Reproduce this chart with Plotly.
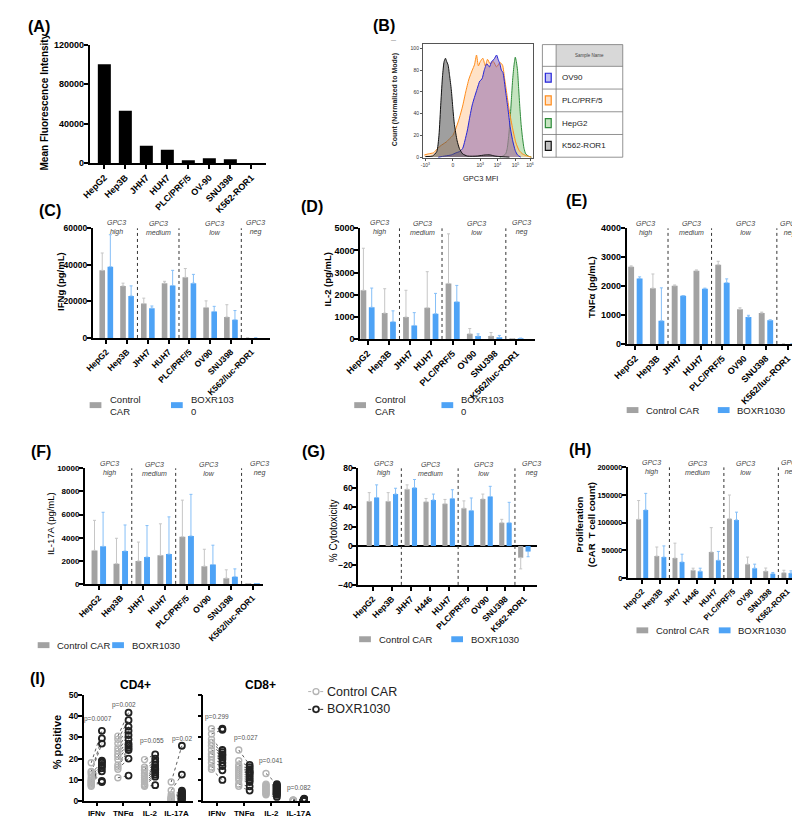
import plotly.graph_objects as go

W, H = 800, 816
FONT = "Liberation Sans, Arial, Helvetica, sans-serif"

# ======================= DATA =======================
# (A) GPC3 surface expression
cells_a = ["HepG2", "Hep3B", "JHH7", "HUH7", "PLC/PRF/5", "OV-90", "SNU398", "K562-ROR1"]
mfi_a = [100000, 53000, 17500, 13500, 3000, 5000, 4000, 0]

# (B) flow histograms (x in logicle display units, y = % of mode)
b_tick_u = [-1.6, 0, 1.6, 2.6, 3.65, 4.5]
b_tick_txt = ["-10<sup>3</sup>", "0", "10<sup>3</sup>", "10<sup>4</sup>", "10<sup>5</sup>", "10<sup>6</sup>"]
b_samples = ["OV90", "PLC/PRF/5", "HepG2", "K562-ROR1"]
hepg2_u = [2.74, 2.92, 3.08, 3.17, 3.26, 3.34, 3.42, 3.49, 3.57, 3.64, 3.70, 3.77, 3.83, 3.91, 3.98, 4.06, 4.15, 4.25, 4.40, 4.58]
hepg2_y = [0, 1, 3, 8, 20, 35, 55, 72, 85, 92, 88, 80, 65, 45, 30, 18, 8, 3, 1, 0]
plc_u = [-1.66, -1.42, -1.13, -0.94, -0.75, -0.57, -0.38, -0.19, 0.0, 0.19, 0.38, 0.57, 0.75, 0.94, 1.13, 1.26,
         1.38, 1.49, 1.60, 1.75, 1.89, 2.02, 2.17, 2.36, 2.55, 2.74, 2.89, 3.02, 3.15, 3.30, 3.49, 3.68, 3.87,
         4.06, 4.34, 4.58]
plc_y = [2, 3, 4, 7, 10, 12, 14, 17, 20, 27, 36, 47, 60, 72, 80, 85, 94, 84, 88, 91, 84, 90, 86, 88, 83, 87, 85,
         72, 58, 42, 26, 13, 6, 3, 1, 0]
ov90_u = [-0.85, -0.47, -0.09, 0.19, 0.38, 0.57, 0.70, 0.85, 1.00, 1.13, 1.26, 1.42, 1.57, 1.70, 1.83, 1.98, 2.13,
          2.26, 2.40, 2.55, 2.64, 2.74, 2.83, 2.92, 3.08, 3.21, 3.34, 3.49, 3.64, 3.77, 3.96]
ov90_y = [0, 1, 2, 4, 5, 8, 15, 25, 38, 48, 55, 63, 70, 72, 80, 86, 83, 88, 90, 94, 90, 86, 80, 78, 60, 45, 28, 15,
          6, 2, 0]
k562_u = [-1.60, -1.19, -0.94, -0.81, -0.70, -0.60, -0.51, -0.43, -0.36, -0.28, -0.19, -0.09, 0.0, 0.09, 0.25,
          0.38, 0.57, 0.85, 1.42, 1.89, 2.17, 2.45, 2.74, 3.30]
k562_y = [0.5, 1, 5, 20, 50, 75, 88, 91, 88, 85, 75, 62, 45, 30, 15, 8, 3, 1, 1, 2, 2, 1, 0.5, 0]

# (C)-(F) cytokines
cells_cf = ["HepG2", "Hep3B", "JHH7", "HUH7", "PLC/PRF/5", "OV90", "SNU398", "K562/luc-ROR1"]
ifng_ctrl = [37000, 28500, 18800, 30000, 33200, 16700, 11500, 0]
ifng_ctrl_sd = [9500, 1500, 3000, 1000, 4800, 3600, 6700, 0]
ifng_boxr = [39000, 23000, 16300, 28700, 30000, 14500, 10000, 0]
ifng_boxr_sd = [17500, 5500, 1200, 8300, 4800, 2800, 5000, 0]

il2_ctrl = [2200, 1170, 990, 1410, 2510, 230, 130, 10]
il2_ctrl_sd = [1900, 1100, 1210, 1630, 2240, 240, 160, 0]
il2_boxr = [1430, 780, 610, 1140, 1680, 130, 70, 20]
il2_boxr_sd = [870, 490, 580, 920, 740, 100, 90, 20]

tnf_ctrl = [2670, 1930, 2010, 2530, 2740, 1200, 1070, 0]
tnf_ctrl_sd = [30, 490, 30, 30, 120, 50, 30, 0]
tnf_boxr = [2260, 800, 1670, 1910, 2120, 930, 820, 0]
tnf_boxr_sd = [60, 1140, 0, 20, 130, 60, 10, 0]

il17_ctrl = [2900, 1750, 1980, 2470, 4080, 1530, 500, 30]
il17_ctrl_sd = [2600, 2200, 1640, 2730, 3170, 1470, 720, 0]
il17_boxr = [3250, 2850, 2330, 2580, 4150, 1680, 630, 30]
il17_boxr_sd = [2950, 2250, 2720, 3220, 3600, 1670, 670, 0]

# (G)-(H)
cells_gh = ["HepG2", "Hep3B", "JHH7", "H446", "HUH7", "PLC/PRF/5", "OV90", "SNU398", "K562-ROR1"]
cyto_ctrl = [46, 46, 58.5, 45.5, 43.5, 39, 48.5, 24, -12]
cyto_ctrl_sd = [9, 9, 4.5, 3.5, 4.5, 7.5, 5, 3.5, 11.5]
cyto_boxr = [50, 53.5, 60, 47.5, 49, 36.5, 51, 24, -5.5]
cyto_boxr_sd = [13, 6, 8.5, 6, 9, 13, 10.5, 21, 5.5]

prolif_ctrl = [106000, 39600, 36000, 14000, 47000, 107000, 25000, 12400, 9500]
prolif_ctrl_sd = [34000, 16400, 27000, 3700, 44000, 43000, 12800, 5600, 4500]
prolif_boxr = [123000, 37800, 29000, 12400, 32000, 105000, 17700, 7700, 8900]
prolif_boxr_sd = [30000, 20200, 14000, 5300, 16000, 14000, 7300, 2300, 4100]

gpc3_groups = ["high", "medium", "low", "neg"]
series_names = ["Control CAR", "BOXR1030"]

# (I) intracellular cytokine staining, paired donors
ics_cats = ["IFNγ", "TNFα", "IL-2", "IL-17A"]
cd4_ctrl = [[18, 14, 13.5, 12.5, 11, 10, 9.5, 9, 8.5, 8, 7.5, 7],
            [30.5, 29, 27, 25, 23.5, 22, 21, 19.5, 17, 16, 15, 11],
            [19.5, 16, 15, 14.5, 13, 12, 11, 10, 9, 8, 7.5, 7],
            [9, 5, 3, 2, 1.5, 1.5, 1, 1, 0.5, 0.5, 0.3, 0.2]]
cd4_boxr = [[33, 29.5, 27, 19, 18.5, 18, 17, 16.5, 15.5, 14, 9.5, 9],
            [41.5, 38, 35, 33, 31, 29, 27, 26, 25, 24, 20, 12],
            [22, 20, 18.5, 17, 16, 15.5, 15, 14.5, 13.5, 12.5, 11.5, 7.5],
            [26, 12.5, 5, 4.5, 4, 3.5, 3, 2.5, 2, 1.5, 1, 0.5]]
cd8_ctrl = [[34, 31.5, 29, 27.5, 26, 24, 22, 21, 19.5, 18, 16, 15],
            [24, 19, 17, 16, 15, 14, 13, 12, 11, 10, 8, 7],
            [13, 8, 7.5, 7, 6.5, 6, 5.5, 5, 4.5, 4, 3.5, 3],
            [0.6, 0.5, 0.4, 0.4, 0.3, 0.3, 0.2, 0.2, 0.2, 0.1, 0.1, 0.1]]
cd8_boxr = [[34, 33.5, 24, 23, 22, 21.5, 20.5, 19.5, 18, 16.5, 14.5, 10],
            [17, 16, 15, 14, 13.5, 13, 12, 11, 10, 9, 7, 5],
            [8, 7.5, 7, 6.5, 6, 5.5, 5, 4.5, 4, 3.5, 3, 2],
            [1.2, 1.0, 0.9, 0.8, 0.7, 0.6, 0.5, 0.5, 0.4, 0.3, 0.3, 0.2]]
cd4_p = ["p=0.0007", "p=0.002", "p=0.055", "p=0.02"]
cd8_p = ["p=0.299", "p=0.027", "p=0.041", "p=0.082"]

# ======================= STYLE / LAYOUT =======================
GRAY = "#a2a2a2"
BLUE = "#4ea3f6"
GRAY_ERR = "#c6c6c6"
BLUE_ERR = "#86bff7"


def fx(x):
    return x / W


def fy(y):
    return 1 - y / H


fig = go.Figure()
layout = dict(width=W, height=H, margin=dict(l=0, r=0, t=0, b=0), paper_bgcolor="white",
              plot_bgcolor="rgba(0,0,0,0)", showlegend=False, barmode="overlay",
              font=dict(family=FONT, color="black"))
annotations = []
shapes = []


def axis(dom, rng, **kw):
    d = dict(domain=dom, range=rng, showline=True, linecolor="black", linewidth=1.5, ticks="outside",
             ticklen=4, tickwidth=1.5, tickcolor="black", showgrid=False, zeroline=False,
             tickfont=dict(family=FONT, size=9, color="black", weight="bold"))
    d.update(kw)
    return d


def add_text(x, y, text, size=9, bold=False, xanchor="center", yanchor="middle", angle=0, color="black",
             xref="paper", yref="paper", align="center", italic=False):
    annotations.append(dict(x=x, y=y, xref=xref, yref=yref, text=text, showarrow=False,
                            xanchor=xanchor, yanchor=yanchor, textangle=angle, align=align,
                            font=dict(family=FONT, size=size, color=color,
                                      weight="bold" if bold else "normal",
                                      style="italic" if italic else "normal")))


def swatch(x, y, color, w=11, h=6):
    shapes.append(dict(type="rect", xref="paper", yref="paper", x0=fx(x), x1=fx(x + w),
                       y0=fy(y + h / 2), y1=fy(y - h / 2), fillcolor=color, line=dict(width=0)))


# ---------- (A) ----------
fig.add_trace(go.Bar(x=cells_a, y=mfi_a, marker=dict(color="black", line=dict(width=0)), width=0.62,
                     xaxis="x", yaxis="y"))
layout["xaxis"] = axis([fx(68), fx(248)], [-0.7, 7.7], anchor="y", tickangle=-45, type="category")
layout["yaxis"] = axis([fy(152), fy(32)], [0, 120000], anchor="x", tickvals=[0, 40000, 80000, 120000],
                       tickformat="d", ticklabelstandoff=-2)
add_text(fx(3), fy(14), "(A)", size=16, bold=True, xanchor="left")
add_text(fx(22), fy(90), "Mean Fluorescence Intensity", size=10, bold=True, angle=-90)

# ---------- (B) ----------
b_styles = [  # drawn bottom to top
    (hepg2_u, hepg2_y, "#2e8b3a", "rgba(150,205,140,0.55)"),
    (plc_u, plc_y, "#ff8c1a", "rgba(255,190,130,0.45)"),
    (ov90_u, ov90_y, "#2424d8", "rgba(120,80,170,0.45)"),
    (k562_u, k562_y, "#111111", "rgba(80,80,80,0.55)"),
]
for u, yv, lc, fc in b_styles:
    fig.add_trace(go.Scatter(x=u, y=yv, mode="lines", line=dict(color=lc, width=1, shape="spline", smoothing=0.6),
                             fill="tozeroy", fillcolor=fc, xaxis="x2", yaxis="y2"))
b_ax = dict(linewidth=0.8, linecolor="#555", mirror=True, ticklen=2, tickwidth=0.8, tickcolor="#555",
            tickfont=dict(family=FONT, size=5, color="#333"))
layout["xaxis2"] = axis([fx(408), fx(520)], [-1.75, 4.65], anchor="y2", tickvals=b_tick_u,
                        ticktext=b_tick_txt, **b_ax)
layout["yaxis2"] = axis([fy(147), fy(31)], [-1, 104.5], anchor="x2", tickvals=[0, 20, 40, 60, 80, 100], **b_ax)
add_text(fx(355), fy(13), "(B)", size=16, bold=True, xanchor="left")
add_text(fx(380), fy(88), "Count (Normalized to Mode)", size=7, bold=True, angle=-90, color="#222")
add_text(fx(467), fy(168), "GPC3 MFI", size=7.5, color="#222")
add_text(fx(378), fy(27), "—", size=5, color="#555")
# legend table
tx0, tx1, tcol = 530, 612, 544
rows_y = [32, 54, 77, 100, 123, 146]
shapes.append(dict(type="rect", xref="paper", yref="paper", x0=fx(tcol), x1=fx(tx1), y0=fy(54), y1=fy(32),
                   fillcolor="#d8d8d8", line=dict(width=0)))
shapes.append(dict(type="rect", xref="paper", yref="paper", x0=fx(tx0), x1=fx(tx1), y0=fy(146), y1=fy(32),
                   line=dict(color="#777", width=0.8)))
shapes.append(dict(type="line", xref="paper", yref="paper", x0=fx(tcol), x1=fx(tcol), y0=fy(146), y1=fy(32),
                   line=dict(color="#777", width=0.8)))
for ry in rows_y[1:-1]:
    shapes.append(dict(type="line", xref="paper", yref="paper", x0=fx(tx0), x1=fx(tx1), y0=fy(ry), y1=fy(ry),
                       line=dict(color="#777", width=0.8)))
add_text(fx((tcol + tx1) / 2), fy(43), "Sample Name", size=4.5, color="#444")
tbl_cols = [("#2424d8", "rgba(150,150,235,0.6)"), ("#ff8c1a", "rgba(255,205,160,0.6)"),
            ("#2e8b3a", "rgba(160,210,150,0.6)"), ("#111111", "rgba(150,150,150,0.6)")]
for i, (name, (lc, fc)) in enumerate(zip(b_samples, tbl_cols)):
    cy = (rows_y[i + 1] + rows_y[i + 2]) / 2
    shapes.append(dict(type="rect", xref="paper", yref="paper", x0=fx(533), x1=fx(539), y0=fy(cy + 4.5),
                       y1=fy(cy - 4.5), fillcolor=fc, line=dict(color=lc, width=1.2)))
    add_text(fx(548), fy(cy), name, size=8, xanchor="left", color="#222")


# ---------- (C)-(H) grouped bars ----------
def bar_panel(k, cats, ctrl, ctrl_sd, boxr, boxr_sd, xdom, xr, ydom, yr, tickvals, dividers, glabel_x, glabel_y,
              fs=9, yfs=None):
    xa, ya = ("x%d" % k, "y%d" % k)
    for vals, sds, col, ecol, off in [(ctrl, ctrl_sd, GRAY, GRAY_ERR, -0.33), (boxr, boxr_sd, BLUE, BLUE_ERR, 0.06)]:
        up = [s if v >= 0 else 0 for v, s in zip(vals, sds)]
        dn = [0 if v >= 0 else s for v, s in zip(vals, sds)]
        fig.add_trace(go.Bar(x=cats, y=vals, width=0.27, offset=off, marker=dict(color=col, line=dict(width=0)),
                             error_y=dict(type="data", array=up, arrayminus=dn, symmetric=False, color=ecol,
                                          thickness=1, width=1.5),
                             xaxis=xa, yaxis=ya))
    layout["xaxis%d" % k] = axis([fx(xdom[0]), fx(xdom[1])], xr, anchor=ya, tickangle=-45, type="category",
                                 tickfont=dict(family=FONT, size=fs, color="black", weight="bold"))
    layout["yaxis%d" % k] = axis([fy(ydom[0]), fy(ydom[1])], yr, anchor=xa, tickvals=tickvals, tickformat="d",
                                 tickfont=dict(family=FONT, size=yfs or fs, color="black", weight="bold"),
                                 ticklabelstandoff=-2,
                                 zeroline=yr[0] < 0, zerolinecolor="black", zerolinewidth=1.5)
    for d in dividers:
        shapes.append(dict(type="line", xref=xa, yref=ya + " domain", x0=d, x1=d, y0=0, y1=1,
                           line=dict(color="#333", width=1, dash="dot")))
    for gx, g in zip(glabel_x, gpc3_groups):
        add_text(gx, fy(glabel_y), "<i>GPC3<br>%s</i>" % g, size=7, color="#444", xref=xa)


bar_panel(3, cells_cf, ifng_ctrl, ifng_ctrl_sd, ifng_boxr, ifng_boxr_sd, (71, 252), [-0.66, 7.88], (329, 218),
          [0, 60000], [0, 20000, 40000, 60000], [1.5, 3.5, 6.5], [0.5, 2.5, 5.2, 7.2], 217.5, fs=8.5)
bar_panel(4, cells_cf, il2_ctrl, il2_ctrl_sd, il2_boxr, il2_boxr_sd, (344, 522), [-0.35, 7.85], (330, 218),
          [0, 5000], [0, 1000, 2000, 3000, 4000, 5000], [1.5, 3.5, 6.5], [0.55, 2.6, 5.1, 7.25], 217.5)
bar_panel(5, cells_cf, tnf_ctrl, tnf_ctrl_sd, tnf_boxr, tnf_boxr_sd, (616, 797), [-0.4, 7.75], (335, 218),
          [0, 4000], [0, 1000, 2000, 3000, 4000], [1.5, 3.5, 6.5], [0.45, 2.57, 5.04, 7.1], 218)
bar_panel(6, cells_cf, il17_ctrl, il17_ctrl_sd, il17_boxr, il17_boxr_sd, (63, 245), [-0.64, 7.48], (578, 461),
          [0, 10000], [0, 2000, 4000, 6000, 8000, 10000], [1.5, 3.5, 6.5], [0.47, 2.55, 5.0, 7.3], 461.5,
          fs=8.5, yfs=8)
bar_panel(7, cells_gh, cyto_ctrl, cyto_ctrl_sd, cyto_boxr, cyto_boxr_sd, (342, 524), [-0.78, 8.64], (579, 461),
          [-40, 80], [-40, -20, 0, 20, 40, 60, 80], [1.5, 4.5, 7.5], [0.55, 3.05, 5.85, 8.4], 461.5, fs=8.5)
bar_panel(8, cells_gh, prolif_ctrl, prolif_ctrl_sd, prolif_boxr, prolif_boxr_sd, (617, 788), [-0.8, 8.43],
          (572, 460), [0, 200000], [0, 50000, 100000, 150000, 200000], [1.5, 4.5, 7.5], [0.54, 3.03, 5.68, 8.15],
          460.5, fs=8, yfs=7.5)

add_text(fx(14), fy(200), "(C)", size=16, bold=True, xanchor="left")
add_text(fx(282), fy(196), "(D)", size=16, bold=True, xanchor="left")
add_text(fx(552), fy(190), "(E)", size=16, bold=True, xanchor="left")
add_text(fx(6), fy(444), "(F)", size=16, bold=True, xanchor="left")
add_text(fx(283), fy(444), "(G)", size=16, bold=True, xanchor="left")
add_text(fx(555), fy(442), "(H)", size=16, bold=True, xanchor="left")
add_text(fx(5), fy(674), "(I)", size=16, bold=True, xanchor="left")

add_text(fx(38), fy(272), "IFNg (pg/mL)", size=9.5, bold=True, angle=-90)
add_text(fx(311), fy(270), "IL-2 (pg/mL)", size=9.5, bold=True, angle=-90)
add_text(fx(580), fy(277), "TNFα (pg/mL)", size=9.5, bold=True, angle=-90)
add_text(fx(28), fy(517), "IL-17A (pg/mL)", size=9.5, angle=-90)
add_text(fx(317), fy(524), "% Cytotoxicity", size=10, angle=-90)
add_text(fx(574), fy(518), "Proliferation<br>(CAR  T cell count)", size=9.5, bold=True, angle=-90)

# bar legends
for (gx, bx, ly, wrap) in [(68, 151, 397, True), (338, 427, 397, True), (616, 709, 402, False),
                           (15, 91, 640, False), (343, 437, 634, False), (626, 710, 625, False)]:
    swatch(gx, ly, GRAY, w=12)
    swatch(bx, ly, BLUE, w=12)
    if wrap:
        add_text(fx(gx + 19), fy(ly), "Control<br>CAR", size=9.5, xanchor="left", align="left", color="#222")
        add_text(fx(bx + 18), fy(ly), "BOXR103<br>0", size=9.5, xanchor="left", align="left", color="#222")
    else:
        add_text(fx(gx + 18), fy(ly), series_names[0], size=9.5, xanchor="left", color="#222")
        add_text(fx(bx + 18), fy(ly), series_names[1], size=9.5, xanchor="left", color="#222")


# ---------- (I) paired dot plots ----------
def ics_panel(k, ctrl, boxr, pvals, xdom, xr, ptext_pos, title, title_x, show_labels):
    xa, ya = ("x%d" % k, "y%d" % k)
    lx, ly, cx, cy, bx, by = [], [], [], [], [], []
    for ci, (cv, bv) in enumerate(zip(ctrl, boxr)):
        for a, b in zip(cv, bv):
            lx += [ci - 0.2, ci + 0.2, None]
            ly += [a, b, None]
            cx.append(ci - 0.2)
            cy.append(a)
            bx.append(ci + 0.2)
            by.append(b)
    fig.add_trace(go.Scatter(x=lx, y=ly, mode="lines", line=dict(color="#333", width=0.8, dash="dot"),
                             xaxis=xa, yaxis=ya))
    fig.add_trace(go.Scatter(x=cx, y=cy, mode="markers", xaxis=xa, yaxis=ya,
                             marker=dict(symbol="circle-open", size=6, color="#b4b4b4", line=dict(width=1.4))))
    fig.add_trace(go.Scatter(x=bx, y=by, mode="markers", xaxis=xa, yaxis=ya,
                             marker=dict(symbol="circle-open", size=6, color="#222", line=dict(width=1.8))))
    layout["xaxis%d" % k] = axis([fx(xdom[0]), fx(xdom[1])], xr, anchor=ya, tickvals=[0, 1, 2, 3],
                                 ticktext=ics_cats, ticklen=3,
                                 tickfont=dict(family=FONT, size=8, color="black", weight="bold"))
    layout["yaxis%d" % k] = axis([fy(798), fy(690)], [0, 50], anchor=xa, tickvals=[0, 10, 20, 30, 40, 50],
                                 showticklabels=show_labels, ticklabelstandoff=-2,
                                 tickfont=dict(family=FONT, size=8.5, color="black", weight="bold"))
    for (px_, py_), t in zip(ptext_pos, pvals):
        add_text(px_, py_, t, size=6.5, color="#555", xref=xa, yref=ya)
    add_text(fx(title_x), fy(680), title, size=12, bold=True)


ics_panel(9, cd4_ctrl, cd4_boxr, cd4_p, (62, 173), [-0.48, 3.6],
          [(0.07, 38.5), (1.03, 45), (2.08, 28), (3.2, 29)], "CD4+", 115, True)
ics_panel(10, cd8_ctrl, cd8_boxr, cd8_p, (184, 293), [-0.5, 3.42],
          [(0.0, 39.4), (1.05, 29.4), (2.0, 18.8), (3.0, 6)], "CD8+", 242, False)
add_text(fx(35), fy(738), "% positive", size=11, bold=True, angle=-90)

# (I) legend
for yy, col, lw, name in [(687, "#b4b4b4", 1.4, series_names[0]), (705, "#222", 1.8, series_names[1])]:
    shapes.append(dict(type="line", xref="paper", yref="paper", x0=fx(291), x1=fx(307), y0=fy(yy), y1=fy(yy),
                       line=dict(color=col, width=1, dash="dot")))
    shapes.append(dict(type="circle", xref="paper", yref="paper", x0=fx(296), x1=fx(302), y0=fy(yy + 3),
                       y1=fy(yy - 3), fillcolor="white", line=dict(color=col, width=lw)))
    add_text(fx(308), fy(yy), name, size=12.5, xanchor="left", color="#222")

layout["annotations"] = annotations
layout["shapes"] = shapes
fig.update_layout(**layout)
fig.write_html("out.html")
